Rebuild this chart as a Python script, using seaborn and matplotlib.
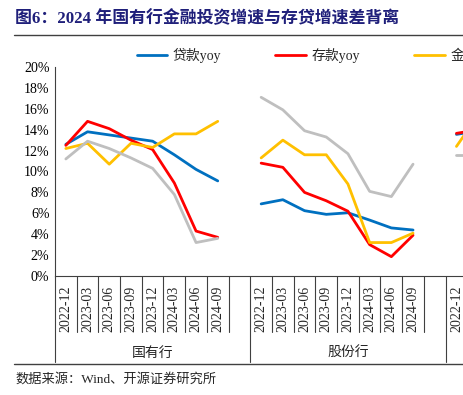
import pandas as pd
import numpy as np
import matplotlib
matplotlib.use("Agg")
import matplotlib.pyplot as plt
import matplotlib.transforms as mtransforms
from matplotlib.lines import Line2D
import seaborn as sns

# =========================
# DATA
# =========================

quarters = ["2022-12", "2023-03", "2023-06", "2023-09",
            "2023-12", "2024-03", "2024-06", "2024-09"]

groups = ["国有行", "股份行", "城商行"]

series_names = ["贷款yoy", "存款yoy", "金融投资yoy", "总资产yoy"]

# 国有行
big_loan = [12.6, 13.8, 13.5, 13.2, 12.9, 11.6, 10.2, 9.1]
big_dep = [12.5, 14.8, 14.1, 13.0, 12.1, 8.9, 4.3, 3.7]
big_inv = [12.2, 12.7, 10.7, 12.7, 12.3, 13.6, 13.6, 14.8]
big_asset = [11.2, 12.9, 12.2, 11.3, 10.3, 7.8, 3.2, 3.6]

# 股份行
jsb_loan = [6.9, 7.3, 6.25, 5.9, 6.05, 5.35, 4.6, 4.4]
jsb_dep = [10.8, 10.4, 8.0, 7.2, 6.2, 3.0, 1.85, 3.9]
jsb_inv = [11.3, 13.0, 11.6, 11.6, 8.8, 3.2, 3.2, 4.1]
jsb_asset = [17.1, 15.9, 13.9, 13.3, 11.7, 8.1, 7.6, 10.7]

# 城商行 (only the start is visible)
city_loan = [13.55, 13.9]
city_dep = [13.65, 14.0]
city_inv = [12.4, 15.4]
city_asset = [11.6, 11.6]

colors = ["#0070C0", "#FF0000", "#FFC000", "#BFBFBF"]

# =========================
# LONG TABLE
# =========================

slot = len(quarters) + 1
rows = []
blocks = [
    (big_loan, big_dep, big_inv, big_asset),
    (jsb_loan, jsb_dep, jsb_inv, jsb_asset),
    (city_loan, city_dep, city_inv, city_asset),
]
for g, block in enumerate(blocks):
    for name, vals in zip(series_names, block):
        for i, v in enumerate(vals):
            rows.append({"pos": g * slot + i, "group": groups[g],
                         "series": name, "value": v})
df = pd.DataFrame(rows)

# =========================
# FIGURE
# =========================

sns.set_style("white")
plt.rcParams["font.family"] = ["Liberation Serif", "Noto Sans CJK SC"]

fig = plt.figure(figsize=(4.63, 3.95), dpi=100)
ax = fig.add_axes([55 / 463, 1 - 276 / 395, 1 - 55 / 463, 209 / 395])

sns.lineplot(
    data=df, x="pos", y="value",
    hue="series", hue_order=series_names, palette=colors,
    units="group", estimator=None,
    linewidth=2.0, ax=ax, legend=True
)

ax.set_yticks(range(0, 21, 2))
ax.set_yticklabels([f"{v}%" for v in range(0, 21, 2)], fontsize=10)
ax.tick_params(axis="y", direction="in", length=3, color="#404040",
               width=0.8, pad=4, labelcolor="black")

for s in ["top", "right"]:
    ax.spines[s].set_visible(False)
for s in ["left", "bottom"]:
    ax.spines[s].set_color("#404040")
    ax.spines[s].set_linewidth(0.8)

# x labels: quarters per group
centers = [g * slot + i for g in range(len(groups)) for i in range(len(quarters))]
ax.set_xticks(centers)
ax.set_xticklabels(quarters * len(groups), rotation=90, fontsize=10)
ax.tick_params(axis="x", length=0, pad=7)
ax.set_xlabel("")
ax.set_ylabel("")

ax.set_ylim(0, 20)
ax.set_xlim(-0.5, -0.5 + (463 - 55) / 21.7)

# separators between slots and between groups
trans = mtransforms.blended_transform_factory(ax.transData, ax.transAxes)
short = 56 / 209
long_ = 86 / 209
for g in range(len(groups)):
    for i in range(slot):
        x = g * slot + i - 0.5
        ln = long_ if i == 0 else short
        ax.plot([x, x], [0, -ln], transform=trans, color="#404040",
                lw=0.8, clip_on=False)

# group names (the third one lies beyond the cropped right edge)
for g in range(2):
    ax.text(g * slot + (slot - 1) / 2, -77 / 209, groups[g], transform=trans,
            ha="center", va="center", fontsize=10,
            family=["Noto Sans CJK SC"])

# legend
handles, labels = ax.get_legend_handles_labels()
ax.legend(handles, labels, ncol=4, frameon=False,
          loc="center left", bbox_to_anchor=(124 / 463, 1 - 55 / 395),
          bbox_transform=fig.transFigure, fontsize=10,
          handlelength=2.2, handletextpad=0.4, columnspacing=3.9)

# title and frame lines
fig.text(15 / 463, 1 - 19 / 395, "图6：2024 年国有行金融投资增速与存贷增速差背离",
         fontsize=12.2, fontweight="bold", color="#1F1F7A",
         ha="left", va="center")
fig.add_artist(Line2D([14 / 463, 1], [1 - 35 / 395] * 2,
                      color="#404040", lw=1.0))
fig.add_artist(Line2D([14 / 463, 1], [1 - 364 / 395] * 2,
                      color="#404040", lw=1.0))
fig.text(15 / 463, 1 - 379 / 395, "数据来源：Wind、开源证券研究所",
         fontsize=9.5, ha="left", va="center")

fig.savefig("out.png", dpi=100)
